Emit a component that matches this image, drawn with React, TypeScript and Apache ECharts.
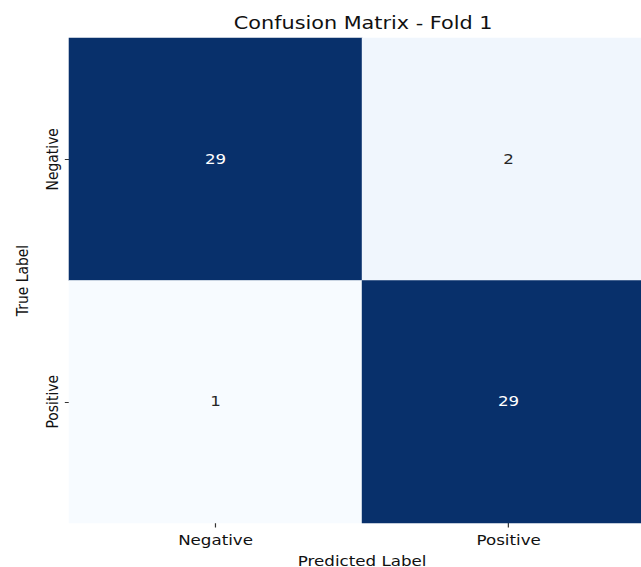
import React, { useEffect, useRef } from "react";
import * as echarts from "echarts";

const predictedLabels = ["Negative", "Positive"];
const trueLabels = ["Negative", "Positive"];
// rows: true label, cols: predicted label
const matrix = [
  [29, 2],
  [1, 29],
];
const title = "Confusion Matrix - Fold 1";
const blues = ["#f7fbff", "#deebf7", "#c6dbef", "#9ecae1", "#6baed6", "#4292c6", "#2171b5", "#08519c", "#08306b"];

const FONT = "DejaVu Sans";
// The reference figure is stretched horizontally; render narrower and stretch.
const INNER_W = 534;
const STRETCH = 641 / INNER_W;

export default function App() {
  const ref = useRef<HTMLDivElement>(null);
  useEffect(() => {
    if (!ref.current) return;
    const chart = echarts.init(ref.current, undefined, { renderer: "svg" });
    const flat = matrix.flat();
    const vmin = Math.min(...flat);
    const vmax = Math.max(...flat);
    const data: any[] = [];
    matrix.forEach((row, r) =>
      row.forEach((v, c) => {
        const dark = (v - vmin) / (vmax - vmin) > 0.5;
        data.push({
          value: [c, r, v],
          label: { color: dark ? "#ffffff" : "#262626" },
        });
      })
    );
    chart.setOption({
      animation: false,
      backgroundColor: "#ffffff",
      title: {
        text: title,
        left: 297.5,
        textAlign: "center",
        top: 10,
        textStyle: { fontFamily: FONT, fontSize: 17.3, fontWeight: "normal", color: "#111" },
      },
      grid: { left: 57.5, top: 38, width: 488.3, height: 485, containLabel: false, outerBoundsMode: "none" },
      xAxis: {
        type: "category",
        data: predictedLabels,
        name: "Predicted Label",
        nameLocation: "middle",
        nameGap: 31,
        nameTextStyle: { fontFamily: FONT, fontSize: 13.9, color: "#111" },
        axisLine: { show: false },
        axisTick: { show: true, alignWithLabel: true, length: 4.5, lineStyle: { color: "#333" } },
        axisLabel: { fontFamily: FONT, fontSize: 13.9, color: "#111", margin: 10 },
        splitLine: { show: false },
      },
      yAxis: {
        type: "category",
        data: trueLabels,
        inverse: true,
        name: "True Label",
        nameLocation: "middle",
        nameGap: 31.5,
        nameRotate: 90,
        nameTextStyle: { fontFamily: FONT, fontSize: 13.9, color: "#111" },
        axisLine: { show: false },
        axisTick: { show: true, alignWithLabel: true, length: 3.5, lineStyle: { color: "#333" } },
        axisLabel: { fontFamily: FONT, fontSize: 13.9, color: "#111", rotate: 90, margin: 7 },
        splitLine: { show: false },
      },
      visualMap: {
        show: false,
        min: vmin,
        max: vmax,
        dimension: 2,
        inRange: { color: blues },
      },
      series: [
        {
          type: "heatmap",
          data,
          label: { show: true, fontFamily: FONT, fontSize: 13.9 },
          itemStyle: { borderWidth: 0 },
          emphasis: { disabled: true },
        },
      ],
    });
    return () => chart.dispose();
  }, []);
  return (
    <div
      ref={ref}
      style={{
        position: "fixed",
        left: 0,
        top: 0,
        width: INNER_W,
        height: 567,
        transform: `scaleX(${STRETCH})`,
        transformOrigin: "0 0",
      }}
    />
  );
}
